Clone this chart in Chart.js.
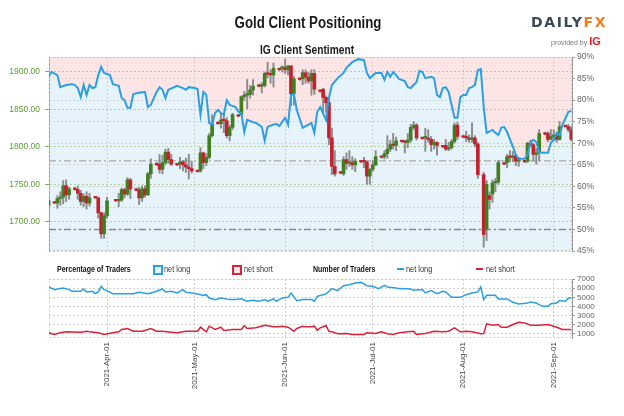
<!DOCTYPE html>
<html>
<head>
<meta charset="utf-8">
<script src="https://cdn.jsdelivr.net/npm/chart.js@4.4.0/dist/chart.umd.min.js"></script>
<style>
  html, body { margin: 0; padding: 0; background: #fff; }
  #wrap { position: relative; width: 624px; height: 416px; overflow: hidden;
          font-family: 'Liberation Sans', Arial, sans-serif; }
  canvas { position: absolute; left: 0; }
  #c1 { top: 0; }
  #c2 { top: 262px; }
  .t { position: absolute; white-space: nowrap; }
  #title { left: 0; width: 616px; top: 14px; text-align: center; font-weight: bold; font-size: 16px; color: #1a1a1a;
           transform: scaleX(0.83); transform-origin: 308px 0; }
  #sub { left: 0; width: 614px; top: 43px; text-align: center; font-weight: bold; font-size: 12px; color: #1a1a1a;
         transform: scaleX(0.85); transform-origin: 307px 0; }
  #logo { left: 531px; top: 14px; font-family: 'DejaVu Sans', sans-serif; font-weight: bold; font-size: 14px; letter-spacing: 1.6px; color: #3d4853; }
  #logo span { color: #f47c20; }
  #prov { left: 551px; top: 35px; font-size: 7px; color: #777; }
  #prov b { color: #e11b22; font-size: 11px; }
  .lg { top: 263px; font-size: 9px; color: #333; line-height: 12px; transform: scaleX(0.82); transform-origin: 0 0; }
  .lgb { font-weight: bold; color: #111; transform: scaleX(0.78); }
  .box { position: absolute; top: 265px; width: 6px; height: 6px; border: 2px solid; }
  .ln { position: absolute; top: 268px; width: 7px; height: 2px; }
</style>
</head>
<body>
<div id="wrap">
  <canvas id="c1" width="624" height="262"></canvas>
  <canvas id="c2" width="624" height="154"></canvas>
  <div class="t" id="title">Gold Client Positioning</div>
  <div class="t" id="sub">IG Client Sentiment</div>
  <div class="t" id="logo">DAILY<span>FX</span></div>
  <div class="t" id="prov">provided by <b>IG</b></div>

  <div class="t lg lgb" style="left:57px">Percentage of Traders</div>
  <div class="box" style="left:153px;border-color:#2a9fe4;background:#e6f3fb"></div>
  <div class="t lg" style="left:164px">net long</div>
  <div class="box" style="left:232px;border-color:#d8243a;background:#fde5e5"></div>
  <div class="t lg" style="left:244px">net short</div>
  <div class="t lg lgb" style="left:313px">Number of Traders</div>
  <div class="ln" style="left:397px;background:#2a9fe4"></div>
  <div class="t lg" style="left:406px">net long</div>
  <div class="ln" style="left:476px;background:#d8243a"></div>
  <div class="t lg" style="left:486px">net short</div>
</div>
<script>
// days counted from 2021-03-01
const tickDays = [31, 61, 92, 122, 153, 184];
const tickLabels = ['2021-Apr-01', '2021-May-01', '2021-Jun-01', '2021-Jul-01', '2021-Aug-01', '2021-Sep-01'];
const priceTicks = [1700, 1750, 1800, 1850, 1900];
const pctTicks = [45, 50, 55, 60, 65, 70, 75, 80, 85, 90];
const traderTicks = [1000, 2000, 3000, 4000, 5000, 6000, 7000];
const refLevels = [65.9, 50];
const X_MIN = 11.13, X_MAX = 190.24;

// gold daily candles
const candleDays = [11,13,14,15,16,17,18,20,21,22,23,24,25,27,28,29,30,31,34,35,36,37,38,39,
  41,42,43,44,45,46,48,49,50,51,52,53,55,56,57,58,59,60,62,63,64,65,66,67,69,70,71,72,73,74,
  76,77,78,79,80,81,83,84,85,86,87,88,90,91,92,93,94,95,97,98,99,100,101,102,104,105,106,107,108,109,
  111,112,113,114,115,116,118,119,120,121,122,123,125,126,127,128,129,130,132,133,134,135,136,137,
  139,140,141,142,143,144,146,147,148,149,150,151,153,154,155,156,157,158,160,161,162,163,164,165,
  167,168,169,170,171,172,174,175,176,177,178,179,181,182,183,184,185,186,188,189,190];
const opens = [1722,1726,1725,1731,1733,1748,1736,1745,1743,1738,1727,1734,1725,1733,1732,1712,1684,1708,1729,1728,1729,1743,1737,1756,
  1744,1743,1732,1744,1736,1764,1778,1777,1770,1779,1793,1783,1777,1777,1780,1776,1773,1771,1768,1768,1792,1779,1786,1815,1832,1831,1836,1835,1815,1826,
  1842,1843,1867,1869,1870,1876,1882,1881,1882,1898,1897,1896,1904,1905,1906,1903,1908,1871,1891,1891,1899,1893,1888,1898,1875,1877,1866,1859,1812,1774,
  1766,1764,1783,1778,1779,1776,1781,1781,1780,1761,1770,1776,1787,1787,1791,1797,1803,1802,1808,1808,1806,1809,1826,1829,
  1812,1812,1812,1810,1803,1806,1801,1802,1797,1799,1807,1829,1814,1814,1812,1810,1812,1804,1763,1690,1735,1737,1752,1753,
  1778,1779,1787,1786,1788,1781,1781,1781,1805,1803,1790,1792,1818,1818,1810,1814,1815,1810,1828,1827,1823];
const highs = [1730,1727,1735,1740,1755,1756,1746,1746,1748,1742,1737,1740,1738,1734,1733,1713,1712,1733,1730,1738,1745,1745,1759,1758,
  1745,1746,1748,1748,1766,1784,1779,1790,1789,1797,1798,1790,1778,1786,1782,1785,1790,1781,1769,1799,1793,1791,1818,1843,1833,1845,1845,1839,1829,1845,
  1843,1868,1874,1890,1882,1890,1883,1886,1900,1913,1903,1912,1905,1908,1917,1909,1909,1894,1892,1903,1903,1900,1903,1903,1876,1878,1868,1864,1825,1795,
  1767,1787,1792,1795,1787,1784,1782,1786,1781,1771,1782,1795,1788,1795,1815,1809,1818,1813,1809,1809,1818,1830,1834,1831,
  1813,1825,1823,1814,1810,1807,1802,1810,1806,1810,1832,1833,1815,1821,1816,1832,1815,1806,1766,1755,1740,1756,1758,1782,
  1779,1790,1795,1794,1790,1786,1782,1806,1809,1805,1798,1823,1819,1820,1823,1823,1817,1834,1829,1830,1827];
const lows = [1700,1724,1718,1722,1724,1727,1730,1742,1730,1722,1720,1717,1721,1731,1705,1678,1678,1705,1727,1720,1727,1732,1735,1731,
  1741,1723,1727,1733,1735,1758,1775,1765,1764,1776,1778,1775,1775,1771,1768,1766,1757,1765,1766,1766,1771,1775,1784,1813,1830,1825,1819,1812,1808,1823,
  1840,1843,1862,1851,1865,1869,1880,1872,1880,1892,1885,1880,1902,1900,1898,1896,1855,1856,1889,1883,1885,1885,1869,1870,1873,1845,1846,1803,1763,1761,
  1764,1762,1770,1774,1770,1767,1779,1772,1750,1750,1767,1775,1785,1784,1785,1794,1797,1795,1806,1792,1799,1806,1823,1809,
  1810,1794,1806,1794,1797,1789,1799,1795,1795,1797,1805,1810,1812,1807,1806,1806,1800,1758,1666,1675,1717,1726,1740,1750,
  1776,1772,1780,1780,1775,1774,1779,1779,1800,1781,1777,1781,1816,1807,1810,1808,1806,1809,1826,1820,1808];
const closes = [1728,1725,1731,1733,1748,1736,1744,1743,1738,1727,1734,1725,1732,1732,1712,1684,1708,1728,1728,1729,1743,1737,1756,1744,
  1742,1732,1744,1736,1764,1777,1776,1770,1779,1793,1783,1777,1776,1780,1776,1773,1771,1768,1767,1792,1779,1786,1815,1831,1831,1836,1835,1815,1826,1843,
  1841,1867,1869,1870,1876,1881,1881,1882,1898,1897,1896,1905,1903,1906,1903,1908,1871,1891,1890,1899,1893,1888,1898,1877,1874,1866,1859,1812,1774,1764,
  1765,1783,1778,1779,1776,1781,1780,1780,1761,1770,1776,1787,1786,1791,1797,1803,1802,1808,1807,1806,1809,1826,1829,1812,
  1811,1812,1810,1803,1806,1802,1800,1797,1799,1807,1829,1814,1813,1812,1810,1812,1804,1763,1683,1750,1730,1752,1753,1779,
  1777,1787,1786,1788,1781,1782,1780,1805,1803,1790,1792,1818,1817,1810,1814,1815,1810,1827,1827,1823,1810];

// IG client sentiment: % of traders net long
const sentDays = [11,12,14,15,17,19,20,21,22,23,24,25,26,27,28,29,30,32,33,35,
  36,37,38,39,40,42,44,45,46,48,49,50,51,52,54,55,57,58,59,61,
  62,63,64,65,66,67,68,69,70,71,72,73,75,76,77,78,79,81,82,84,
  85,86,88,89,90,92,93,94,95,96,98,100,101,102,103,104,106,107,108,110,
  112,113,115,117,119,120,121,123,125,126,127,128,129,130,131,133,134,135,137,138,
  139,140,142,143,144,145,146,147,148,149,150,151,152,153,154,155,156,157,158,159,
  160,161,163,164,165,166,167,168,170,171,172,174,175,176,177,178,179,180,182,183,
  184,185,186,187,188,189,190];
const sentLong = [85.4,86.5,85.8,83.0,83.5,83.7,83.5,82.8,80.7,83.5,81.2,83.5,82.8,83.0,85.8,87.7,86.3,85.8,83.7,83.3,
  80.5,80.0,78.2,78.2,81.4,81.7,81.9,78.4,78.9,81.9,83.0,82.4,80.5,82.4,83.0,83.3,82.8,82.4,83.0,82.8,
  82.6,76.6,81.9,81.2,74.7,74.3,77.0,77.7,77.0,76.6,80.0,78.9,78.4,77.3,77.0,72.6,75.4,74.9,74.7,73.8,
  70.6,73.8,74.3,74.5,74.0,75.9,74.3,81.2,81.4,77.7,73.6,74.3,74.7,72.4,77.3,78.4,75.4,80.5,83.5,85.1,
  86.3,87.5,88.8,89.5,89.3,86.3,85.1,86.3,86.3,84.7,86.5,85.4,86.5,85.8,84.9,84.4,83.0,82.8,84.2,86.8,
  86.5,85.1,85.4,85.1,81.2,80.7,82.8,83.0,81.9,78.9,75.9,75.9,80.7,81.2,81.2,82.8,83.0,83.5,87.0,87.2,
  78.4,72.4,73.1,72.4,71.9,73.6,73.8,72.6,69.2,67.3,66.4,66.4,67.3,70.1,70.8,70.3,68.0,67.8,67.8,70.1,
  70.8,72.4,71.9,74.3,75.8,77.3,77.5];

// number of traders
const longDays = [11,13,14,16,18,19,22,23,24,26,27,28,29,30,31,33,35,40,42,45,47,50,51,53,55,57,58,60,62,64,
  65,66,68,70,73,75,77,79,81,83,85,86,88,89,91,93,94,96,98,101,102,103,105,106,108,110,111,112,114,116,
  118,120,122,124,126,127,130,131,135,136,139,140,142,144,146,147,149,152,154,156,158,159,160,161,164,165,168,170,172,175,
  176,178,180,182,183,185,186,188,189,190];
const longTraders = [6130,5840,5910,6020,5840,5650,5650,5910,5590,5650,5400,5590,6200,5840,5730,5400,5400,5400,5550,5400,5550,5910,5590,5650,5480,5840,5550,5480,5370,5190,
  5290,4930,4750,4930,4750,4750,4830,4570,4670,4570,4750,4570,4830,4570,4930,5000,5480,4640,4750,4750,4570,5110,5290,5370,5950,5730,6020,6270,6380,6570,
  6630,6270,6200,5950,6300,6130,6020,5950,5910,5760,5840,5480,5730,5400,5650,5590,5000,5000,5290,5480,5590,6130,4750,5220,5220,4830,4830,4460,4280,4390,
  4500,4390,4020,4020,4310,4390,4640,4570,4930,4930];
const shortDays = [11,13,15,17,22,24,25,28,30,33,35,36,38,40,43,46,48,50,53,55,58,62,63,65,66,68,70,71,74,77,
  78,79,82,85,88,90,91,93,95,96,98,99,101,102,103,104,106,107,108,110,113,115,119,120,123,125,127,129,131,134,
  136,137,140,143,146,148,150,152,154,156,159,160,161,163,165,166,168,170,172,174,176,179,182,184,185,187,190];
const shortTraders = [1130,950,1130,1240,1200,1300,1240,1130,950,1130,1240,1490,1600,1300,1300,1600,1300,1300,1200,1130,1300,1300,1740,1240,1850,1490,1740,1380,1490,1490,
  1920,1600,1670,1960,1780,1780,1850,1740,1300,1600,1850,1780,1800,1850,1400,1670,1920,1300,1240,1020,1050,950,950,1130,1050,1240,1020,950,1130,1240,
  1300,950,1050,1300,1240,1300,1670,1240,1300,1240,1020,1050,2110,1960,2030,1740,1740,2030,2280,2210,1960,1960,2030,1850,1740,1490,1490];

Chart.defaults.font.family = "'Liberation Sans', Arial, sans-serif";

const pts = (xs, ys) => xs.map((x, i) => ({ x: x, y: ys[i] }));
const sentData = pts(sentDays, sentLong);
const bodyData = candleDays.map((d, i) => ({ x: d, y: [opens[i], closes[i]] }));
const wickData = candleDays.map((d, i) => ({ x: d, y: [lows[i], highs[i]] }));
const bodyColors = candleDays.map((d, i) => closes[i] >= opens[i] ? '#3f7f1f' : '#c4202e');

const setTicks = list => scale => { scale.ticks = list.map(v => ({ value: v })); };

// dotted frame round the plot area
const frame = {
  id: 'frame',
  beforeDatasetsDraw(chart, args, opts) {
    const a = chart.chartArea, ctx = chart.ctx;
    ctx.save();
    ctx.strokeStyle = opts.color || '#c5c5c5';
    ctx.lineWidth = 1;
    ctx.setLineDash([2, 2]);
    ctx.strokeRect(a.left + 0.5, a.top + 0.5, a.right - a.left - 1, a.bottom - a.top - 1);
    ctx.restore();
  }
};

const refSets = refLevels.map((lvl, i) => ({
  type: 'line',
  data: [{ x: X_MIN, y: lvl }, { x: X_MAX, y: lvl }],
  yAxisID: 'yR',
  borderColor: i === 0 ? '#a9a9a9' : '#8a8a8a',
  borderWidth: i === 0 ? 1.2 : 1.6,
  borderDash: [7, 3, 2, 3],
  pointRadius: 0,
  fill: false,
  order: 4
}));

new Chart(document.getElementById('c1'), {
  type: 'bar',
  data: {
    datasets: [
      { type: 'line', data: sentData, yAxisID: 'yR', borderColor: '#2a9fe4', borderWidth: 2,
        pointRadius: 0, tension: 0, fill: 'start', backgroundColor: '#e6f3fb', order: 0 },
      { type: 'line', data: sentData, yAxisID: 'yR', borderColor: 'rgba(0,0,0,0)', borderWidth: 0,
        pointRadius: 0, tension: 0, fill: 'end', backgroundColor: '#fde5e5', order: 6 },
      ...refSets,
      { type: 'bar', data: bodyData, yAxisID: 'yL', backgroundColor: bodyColors,
        barThickness: 3, minBarLength: 1.5, grouped: false, order: 1 },
      { type: 'bar', data: wickData, yAxisID: 'yL', backgroundColor: '#8c8c8c',
        barThickness: 1.3, grouped: false, order: 2 }
    ]
  },
  options: {
    responsive: false,
    animation: false,
    events: [],
    layout: { padding: { top: 57, bottom: 11, left: 0, right: 0 } },
    plugins: {
      legend: { display: false },
      tooltip: { enabled: false },
      filler: { drawTime: 'beforeDraw' },
      frame: { color: '#bccdaa' }
    },
    scales: {
      x: {
        type: 'linear', min: X_MIN, max: X_MAX, offset: false,
        afterBuildTicks: setTicks(tickDays),
        afterFit: s => { s.height = 0; },
        ticks: { display: false },
        grid: { color: '#cdcdcd', drawTicks: false, offset: false },
        border: { display: false, dash: [2, 2] }
      },
      yL: {
        position: 'left', min: 1661, max: 1920,
        afterBuildTicks: setTicks(priceTicks),
        afterFit: s => { s.width = 49; },
        ticks: { color: '#5a9a32', font: { size: 8.5 }, padding: 5, callback: v => v.toFixed(2) },
        grid: { color: '#b3d29a', tickLength: 4, tickColor: '#7fb35c' },
        border: { color: '#7fb35c', dash: [2, 2] }
      },
      yR: {
        position: 'right', min: 45, max: 90,
        afterBuildTicks: setTicks(pctTicks),
        afterFit: s => { s.width = 52; },
        ticks: { color: '#666', font: { size: 8.5 }, padding: 2, autoSkip: false, callback: v => v + '%' },
        grid: { color: '#d2d2d2', tickLength: 3, tickColor: '#999' },
        border: { color: '#999', dash: [2, 2] }
      }
    }
  },
  plugins: [frame]
});

new Chart(document.getElementById('c2'), {
  type: 'line',
  data: {
    datasets: [
      { data: pts(longDays, longTraders), borderColor: '#2a9fe4', borderWidth: 1.5, pointRadius: 0, tension: 0 },
      { data: pts(shortDays, shortTraders), borderColor: '#d8243a', borderWidth: 1.5, pointRadius: 0, tension: 0 }
    ]
  },
  options: {
    responsive: false,
    animation: false,
    events: [],
    layout: { padding: { top: 17, left: 49, right: 0, bottom: 0 } },
    plugins: { legend: { display: false }, tooltip: { enabled: false }, frame: { color: '#cccccc' } },
    scales: {
      x: {
        type: 'linear', min: X_MIN, max: X_MAX,
        afterBuildTicks: setTicks(tickDays),
        afterFit: s => { s.height = 78; },
        ticks: { autoSkip: false, minRotation: 90, maxRotation: 90, color: '#444', font: { size: 8 }, padding: 4,
                 callback: v => tickLabels[tickDays.indexOf(v)] },
        grid: { color: '#cdcdcd', drawTicks: false },
        border: { display: false, dash: [2, 2] }
      },
      y: {
        position: 'right', min: 560, max: 7000,
        afterBuildTicks: setTicks(traderTicks),
        afterFit: s => { s.width = 52; },
        ticks: { color: '#666', font: { size: 8 }, padding: 2, autoSkip: false, callback: v => String(v) },
        grid: { color: '#d2d2d2', tickLength: 3, tickColor: '#999' },
        border: { color: '#999', dash: [2, 2] }
      }
    }
  },
  plugins: [frame]
});
</script>
</body>
</html>
